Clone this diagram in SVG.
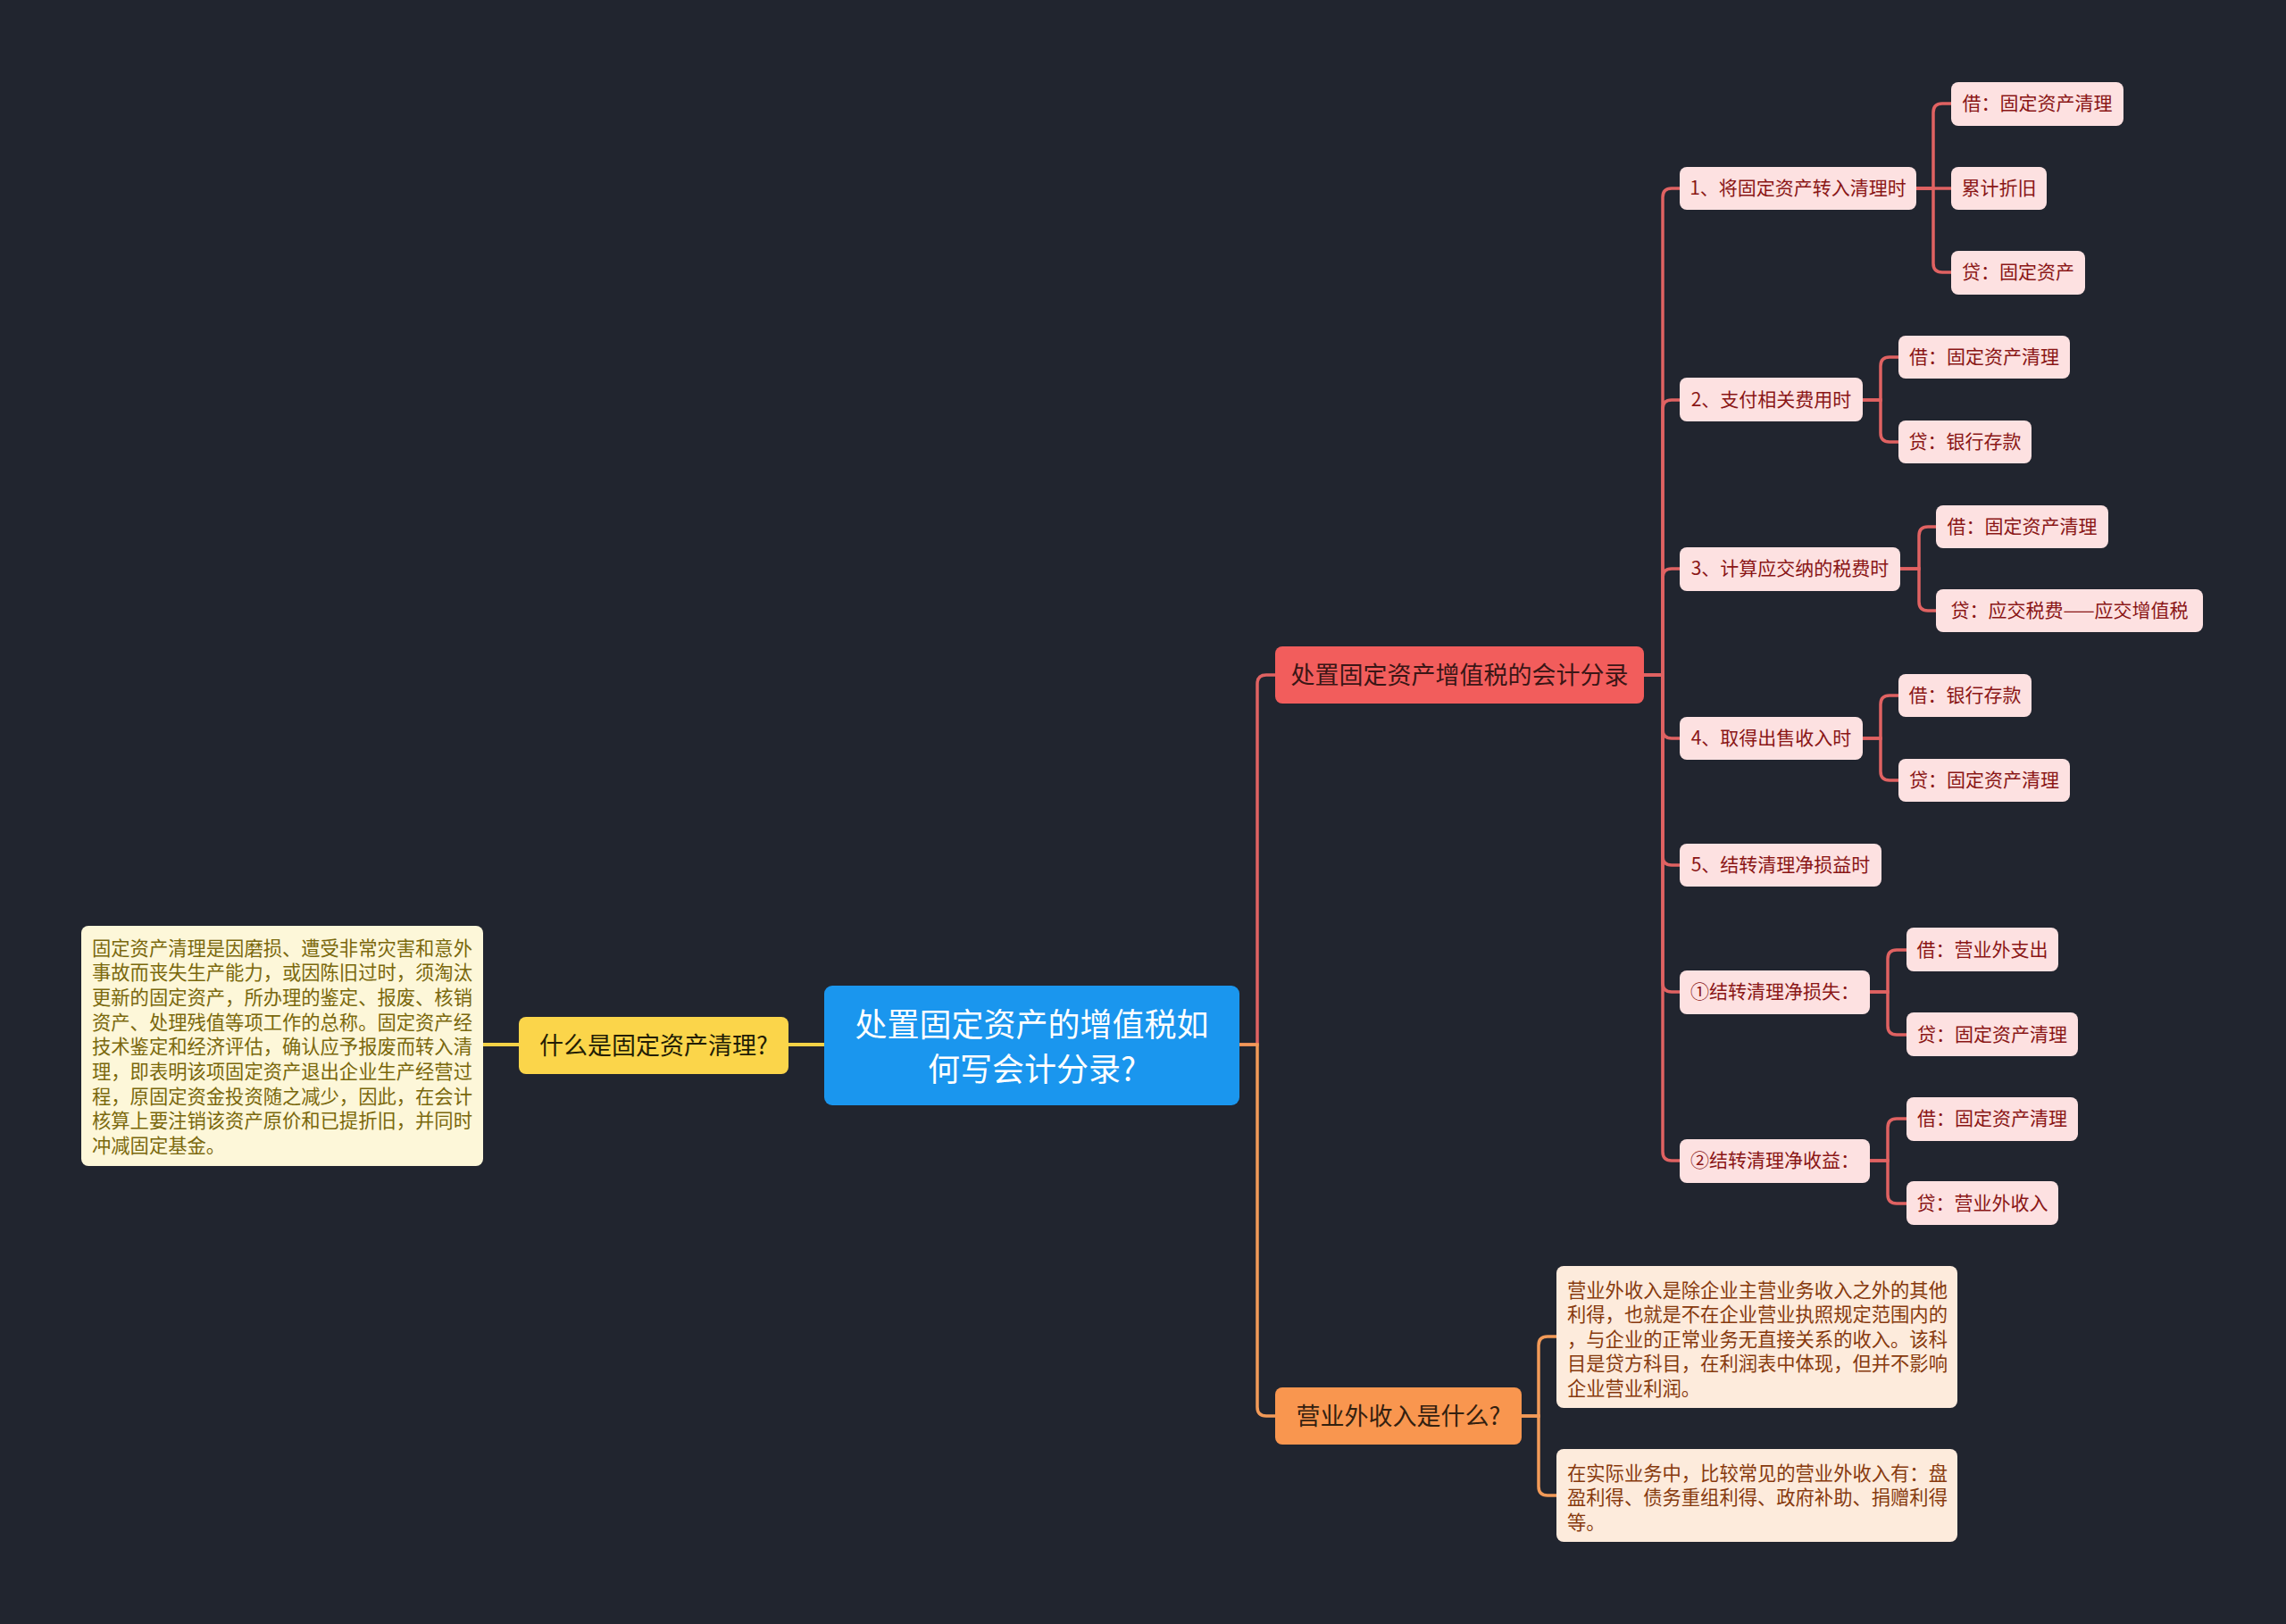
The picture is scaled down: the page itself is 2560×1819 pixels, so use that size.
<svg xmlns="http://www.w3.org/2000/svg" width="2560" height="1819" viewBox="0 0 2560 1819">
<style>
text{font-family:"Noto Sans CJK SC","Noto Sans",sans-serif;dominant-baseline:central;transform:translate(0px,-2px)}
.leaf rect{fill:#fde1e1}
.leaf text{fill:#8a1616;font-size:21px;text-anchor:middle}
.lr{fill:none;stroke:#e06262;stroke-width:3.5}
.lo{fill:none;stroke:#f29a58;stroke-width:3.5}
.ly{fill:none;stroke:#f4d246;stroke-width:4}
.para{font-size:21.3px}
</style>
<rect width="2560" height="1819" fill="#21252f"/>
<g id="connectors">
<path class="ly" d="M923 1170H883"/>
<path class="ly" d="M581 1170H541"/>
<path class="lr" d="M1388 1170H1408V766Q1408 756 1418 756H1428"/>
<path class="lo" d="M1388 1170H1408V1576Q1408 1586 1418 1586H1428"/>
<path class="lo" d="M1704 1586H1723V1507Q1723 1497 1733 1497H1743"/>
<path class="lo" d="M1704 1586H1723V1665Q1723 1675 1733 1675H1743"/>
<path class="lr" d="M1841 756H1862V221Q1862 211 1872 211H1881"/>
<path class="lr" d="M1841 756H1862V458Q1862 448 1872 448H1881"/>
<path class="lr" d="M1841 756H1862V647Q1862 637 1872 637H1881"/>
<path class="lr" d="M1841 756H1862V817Q1862 827 1872 827H1881"/>
<path class="lr" d="M1841 756H1862V959Q1862 969 1872 969H1881"/>
<path class="lr" d="M1841 756H1862V1101Q1862 1111 1872 1111H1881"/>
<path class="lr" d="M1841 756H1862V1290Q1862 1300 1872 1300H1881"/>
<path class="lr" d="M2146 211H2165V126Q2165 116 2175 116H2185"/>
<path class="lr" d="M2146 211H2185"/>
<path class="lr" d="M2146 211H2165V295Q2165 305 2175 305H2185"/>
<path class="lr" d="M2085 448H2106V410Q2106 400 2116 400H2126"/>
<path class="lr" d="M2085 448H2106V485Q2106 495 2116 495H2126"/>
<path class="lr" d="M2128 637H2149V600Q2149 590 2159 590H2168"/>
<path class="lr" d="M2128 637H2149V674Q2149 684 2159 684H2168"/>
<path class="lr" d="M2085 827H2106V789Q2106 779 2116 779H2126"/>
<path class="lr" d="M2085 827H2106V864Q2106 874 2116 874H2126"/>
<path class="lr" d="M2094 1111H2114V1074Q2114 1064 2124 1064H2135"/>
<path class="lr" d="M2094 1111H2114V1149Q2114 1159 2124 1159H2135"/>
<path class="lr" d="M2094 1300H2114V1263Q2114 1253 2124 1253H2135"/>
<path class="lr" d="M2094 1300H2114V1338Q2114 1348 2124 1348H2135"/>
</g>
<g id="root">
<rect x="923" y="1104" width="465" height="134" rx="9" fill="#1a96ee"/>
<text x="1155.5" y="1147" font-size="36" fill="#ffffff" text-anchor="middle">处置固定资产的增值税如</text>
<text x="1155.5" y="1197" font-size="36" fill="#ffffff" text-anchor="middle">何写会计分录?</text>
</g>
<g id="n-what-clean">
<rect x="581" y="1139" width="302" height="64" rx="8" fill="#fbd54a"/>
<text x="732" y="1171" font-size="27" fill="#231d05" text-anchor="middle">什么是固定资产清理?</text>
</g>
<g id="n-what-clean-desc">
<rect x="91" y="1037" width="450" height="269" rx="8" fill="#fdf7d9"/>
<g class="para" fill="#7a680c">
<text x="103" y="1062">固定资产清理是因磨损、遭受非常灾害和意外</text>
<text x="103" y="1089.5">事故而丧失生产能力，或因陈旧过时，须淘汰</text>
<text x="103" y="1117">更新的固定资产，所办理的鉴定、报废、核销</text>
<text x="103" y="1145">资产、处理残值等项工作的总称。固定资产经</text>
<text x="103" y="1172.5">技术鉴定和经济评估，确认应予报废而转入清</text>
<text x="103" y="1200">理，即表明该项固定资产退出企业生产经营过</text>
<text x="103" y="1228">程，原固定资金投资随之减少，因此，在会计</text>
<text x="103" y="1255.5">核算上要注销该资产原价和已提折旧，并同时</text>
<text x="103" y="1283">冲减固定基金。</text>
</g>
</g>
<g id="n-entries">
<rect x="1428" y="724" width="413" height="64" rx="8" fill="#f25d5c"/>
<text x="1634.5" y="756" font-size="27" fill="#3a1616" text-anchor="middle">处置固定资产增值税的会计分录</text>
</g>
<g id="n-income">
<rect x="1428" y="1554" width="276" height="64" rx="8" fill="#f9964f"/>
<text x="1566" y="1586" font-size="27" fill="#33200f" text-anchor="middle">营业外收入是什么?</text>
</g>
<g id="n-income-desc1">
<rect x="1743" y="1418" width="449" height="159" rx="8" fill="#fdebdc"/>
<g class="para" fill="#873a0e">
<text x="1755" y="1445">营业外收入是除企业主营业务收入之外的其他</text>
<text x="1755" y="1472.5">利得，也就是不在企业营业执照规定范围内的</text>
<text x="1755" y="1500">，与企业的正常业务无直接关系的收入。该科</text>
<text x="1755" y="1527.5">目是贷方科目，在利润表中体现，但并不影响</text>
<text x="1755" y="1555">企业营业利润。</text>
</g>
</g>
<g id="n-income-desc2">
<rect x="1743" y="1623" width="449" height="104" rx="8" fill="#fdebdc"/>
<g class="para" fill="#873a0e">
<text x="1755" y="1650">在实际业务中，比较常见的营业外收入有：盘</text>
<text x="1755" y="1677.5">盈利得、债务重组利得、政府补助、捐赠利得</text>
<text x="1755" y="1705">等。</text>
</g>
</g>
<g id="s1" class="leaf"><rect x="1881" y="187" width="265" height="48" rx="8"/><text x="2013.5" y="211">1、将固定资产转入清理时</text></g>
<g id="s1a" class="leaf"><rect x="2185" y="92" width="193" height="49" rx="8"/><text x="2281.5" y="116">借：固定资产清理</text></g>
<g id="s1b" class="leaf"><rect x="2185" y="187" width="107" height="48" rx="8"/><text x="2238.5" y="211">累计折旧</text></g>
<g id="s1c" class="leaf"><rect x="2185" y="281" width="150" height="49" rx="8"/><text x="2260" y="305">贷：固定资产</text></g>
<g id="s2" class="leaf"><rect x="1881" y="423" width="205" height="49" rx="8"/><text x="1983.5" y="448">2、支付相关费用时</text></g>
<g id="s2a" class="leaf"><rect x="2126" y="376" width="192" height="48" rx="8"/><text x="2222" y="400">借：固定资产清理</text></g>
<g id="s2b" class="leaf"><rect x="2126" y="471" width="149" height="48" rx="8"/><text x="2200.5" y="495">贷：银行存款</text></g>
<g id="s3" class="leaf"><rect x="1881" y="613" width="247" height="49" rx="8"/><text x="2004.5" y="637">3、计算应交纳的税费时</text></g>
<g id="s3a" class="leaf"><rect x="2168" y="566" width="193" height="48" rx="8"/><text x="2264.5" y="590">借：固定资产清理</text></g>
<g id="s3b" class="leaf"><rect x="2168" y="660" width="299" height="48" rx="8"/><text x="2317.5" y="684">贷：应交税费——应交增值税</text></g>
<g id="s4" class="leaf"><rect x="1881" y="803" width="205" height="48" rx="8"/><text x="1983.5" y="827">4、取得出售收入时</text></g>
<g id="s4a" class="leaf"><rect x="2126" y="755" width="149" height="48" rx="8"/><text x="2200.5" y="779">借：银行存款</text></g>
<g id="s4b" class="leaf"><rect x="2126" y="850" width="192" height="48" rx="8"/><text x="2222" y="874">贷：固定资产清理</text></g>
<g id="s5" class="leaf"><rect x="1881" y="945" width="226" height="48" rx="8"/><text x="1994" y="969">5、结转清理净损益时</text></g>
<g id="s6" class="leaf"><rect x="1881" y="1087" width="213" height="49" rx="8"/><text x="1987.5" y="1111">①结转清理净损失：</text></g>
<g id="s6a" class="leaf"><rect x="2135" y="1039" width="170" height="49" rx="8"/><text x="2220" y="1064">借：营业外支出</text></g>
<g id="s6b" class="leaf"><rect x="2135" y="1134" width="192" height="49" rx="8"/><text x="2231" y="1159">贷：固定资产清理</text></g>
<g id="s7" class="leaf"><rect x="1881" y="1276" width="213" height="49" rx="8"/><text x="1987.5" y="1300">②结转清理净收益：</text></g>
<g id="s7a" class="leaf"><rect x="2135" y="1229" width="192" height="49" rx="8"/><text x="2231" y="1253">借：固定资产清理</text></g>
<g id="s7b" class="leaf"><rect x="2135" y="1323" width="170" height="49" rx="8"/><text x="2220" y="1348">贷：营业外收入</text></g>
</svg>
